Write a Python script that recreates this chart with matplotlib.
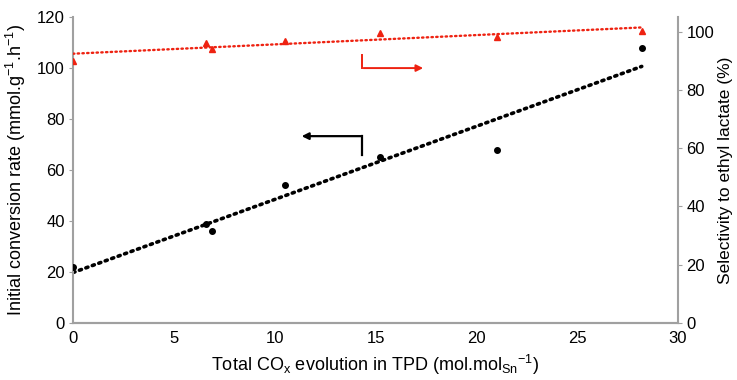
import matplotlib
matplotlib.use("Agg")
import matplotlib.pyplot as plt
import numpy as np

plt.rcParams['font.family'] = ['Liberation Sans', 'DejaVu Sans']
plt.rcParams['mathtext.fontset'] = 'custom'
plt.rcParams['mathtext.rm'] = 'Liberation Sans'
plt.rcParams['mathtext.it'] = 'Liberation Sans'

# Data
co_x = [0, 6.6, 6.9, 10.5, 15.2, 21.0, 28.2]
conv_rate = [22, 39, 36, 54, 65, 68, 108]
selectivity = [90, 96.2, 94.2, 96.9, 99.5, 98.3, 100.2]

grey = '#a0a0a0'

fig = plt.figure(figsize=(7.37, 3.8), dpi=100)
ax = fig.add_axes([0.099, 0.15, 0.821, 0.805])
ax2 = ax.twinx()

# Left axis: conversion rate
ax.plot(co_x, conv_rate, 'o', color='black', ms=4, zorder=4)
k, b = np.polyfit(co_x, conv_rate, 1)
xs = np.array([0, max(co_x)])
ax.plot(xs, k * xs + b, color='black', lw=2.6, linestyle=(0, (0.6, 1.3)),
        dash_capstyle='round')

# Right axis: selectivity
ax2.plot(co_x, selectivity, '^', color='#ee2211', ms=5, zorder=4)
k2, b2 = np.polyfit(co_x, selectivity, 1)
ax2.plot(xs, k2 * xs + b2, color='#ee2211', lw=1.7, linestyle=(0, (0.6, 1.4)),
         dash_capstyle='round')

ax.set_xlim(0, 30)
ax.set_ylim(0, 120)
ax2.set_ylim(0, 105)
ax.set_xticks([0, 5, 10, 15, 20, 25, 30])
ax.set_yticks(range(0, 121, 20))
ax2.set_yticks(range(0, 101, 20))

for a in (ax, ax2):
    a.spines['top'].set_visible(False)
    for s in ('left', 'right', 'bottom'):
        a.spines[s].set_color(grey)
        a.spines[s].set_linewidth(1.5)
    a.tick_params(axis='y', length=3, color=grey, labelsize=12, pad=3)
ax.tick_params(axis='x', length=0, labelsize=12, pad=6)
ax.spines['right'].set_visible(False)
ax2.spines['left'].set_visible(False)

ax.set_xlabel('Total CO$_{x}$ evolution in TPD (mol.mol$_{Sn}$$^{-1}$)', fontsize=13, labelpad=5)
ax.set_ylabel('Initial conversion rate (mmol.g$^{-1}$.h$^{-1}$)', fontsize=13, labelpad=6)
ax2.set_ylabel('Selectivity to ethyl lactate (%)', fontsize=12.5, labelpad=3)

# Direction arrows
ax.plot([14.33, 14.33], [65.9, 73.3], color='black', lw=1.6)
ax.annotate('', xy=(11.2, 73.3), xytext=(14.4, 73.3),
            arrowprops=dict(arrowstyle='-|>', color='black', lw=1.6, mutation_scale=10))
ax.plot([14.33, 14.33], [105.1, 100.0], color='#ee2211', lw=1.4)
ax.annotate('', xy=(17.5, 100.0), xytext=(14.27, 100.0),
            arrowprops=dict(arrowstyle='-|>', color='#ee2211', lw=1.4, mutation_scale=10))

fig.savefig('out.png', dpi=100)
